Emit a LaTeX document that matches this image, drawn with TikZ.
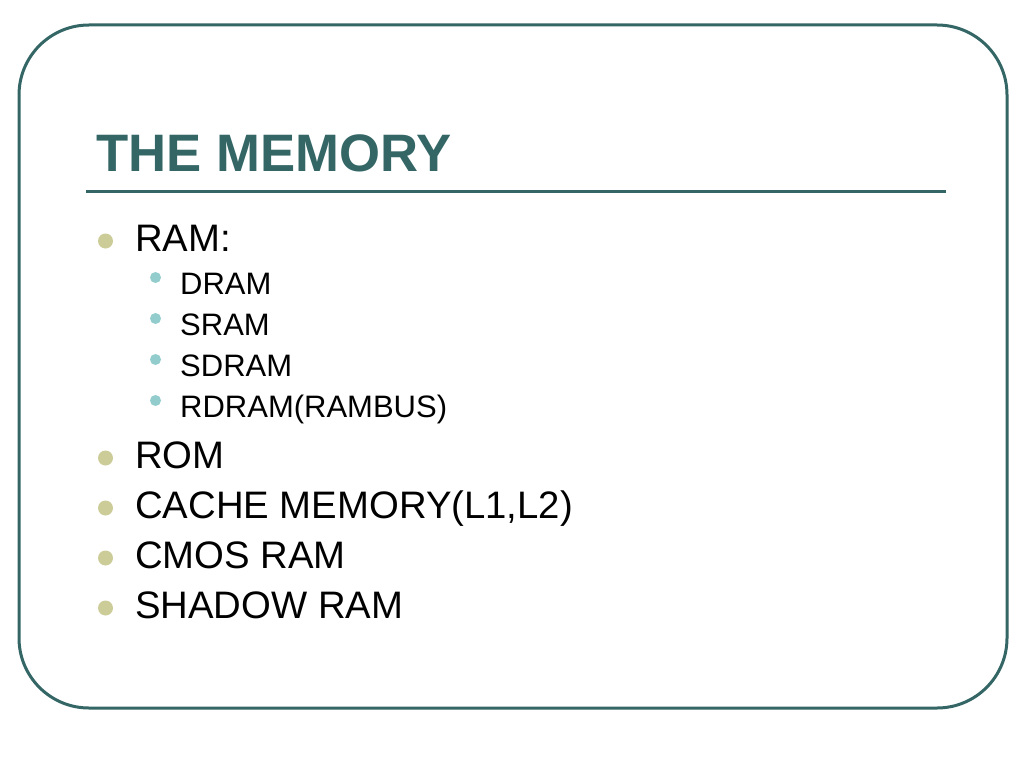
\documentclass[tikz,border=0pt]{standalone}
\usepackage{fontspec}
\setmainfont{Liberation Sans}
\definecolor{slideteal}{RGB}{52,102,102}
\definecolor{dotolive}{RGB}{204,204,153}
\definecolor{dotcyan}{RGB}{146,204,204}

\begin{document}
\begin{tikzpicture}[x=1pt,y=-1pt,
        mainitem/.style={anchor=base west,inner sep=0pt,font=\fontsize{38.3}{44}\selectfont},
        subitem/.style={anchor=base west,inner sep=0pt,font=\fontsize{31}{36}\selectfont},
        maindot/.style={circle,fill=dotolive,inner sep=0pt,minimum size=15pt},
        subdot/.style={circle,fill=dotcyan,inner sep=0pt,minimum size=11pt}]
\useasboundingbox (0,0) rectangle (1024,768);
        \coordinate (TL) at (19, 25);
        \coordinate (BR) at (1007, 708);
        \coordinate (R1) at (86, 191.5);
        \coordinate (R2) at (946, 191.5);
\draw[slideteal,line width=3pt,rounded corners=70pt] (TL) rectangle (BR);
\draw[slideteal,line width=3pt] (R1)--(R2);
\node[anchor=base west,inner sep=0pt,text=slideteal,font=\fontsize{52.7}{60}\bfseries] (title) at (96, 171.5) {THE MEMORY};
\node[maindot] (d1) at (105.5, 241) {};
\node[mainitem] (ram) at (135, 251) {RAM:};
\node[subdot] (s1) at (155.5, 277.5) {};
\node[subitem] (dram) at (180, 294.5) {DRAM};
\node[subdot] (s2) at (155.5, 318.5) {};
\node[subitem] (sram) at (180, 335.5) {SRAM};
\node[subdot] (s3) at (155.5, 359.5) {};
\node[subitem] (sdram) at (180, 376.5) {SDRAM};
\node[subdot] (s4) at (155.5, 400.5) {};
\node[subitem] (rdram) at (180, 417.5) {RDRAM(RAMBUS)};
\node[maindot] (d2) at (105.5, 458) {};
\node[mainitem] (rom) at (135, 468) {ROM};
\node[maindot] (d3) at (105.5, 508) {};
\node[mainitem] (cache) at (135, 518) {CACHE MEMORY(L1,L2)};
\node[maindot] (d4) at (105.5, 558) {};
\node[mainitem] (cmos) at (135, 568) {CMOS RAM};
\node[maindot] (d5) at (105.5, 608) {};
\node[mainitem] (shadow) at (135, 618) {SHADOW RAM};
\end{tikzpicture}
\end{document}
